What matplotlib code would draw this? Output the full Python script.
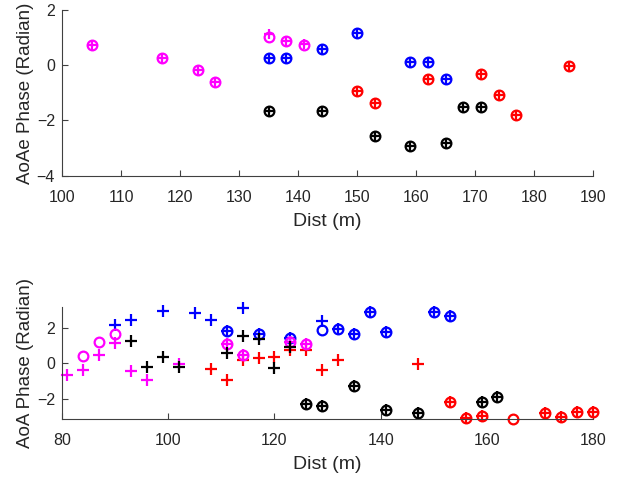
import matplotlib
matplotlib.use('Agg')
import matplotlib.pyplot as plt

plt.rcParams['font.family'] = ['Liberation Sans', 'DejaVu Sans']

# ---- top plot (AoAe) ----
top_m_x = [105, 117, 123, 126, 135, 138, 141]
top_m_o = [0.73, 0.27, -0.18, -0.62, 1.03, 0.89, 0.74]
top_m_p = [0.73, 0.27, -0.18, -0.62, 1.12, 0.89, 0.76]

top_b_x = [135, 138, 144, 150, 159, 162, 165]
top_b_y = [0.27, 0.27, 0.59, 1.18, 0.13, 0.13, -0.5]

top_r_x = [150, 153, 162, 171, 174, 177, 186]
top_r_y = [-0.94, -1.38, -0.5, -0.33, -1.09, -1.8, -0.02]

top_k_x = [135, 144, 153, 159, 165, 168, 171]
top_k_y = [-1.65, -1.65, -2.56, -2.93, -2.81, -1.5, -1.5]

# ---- bottom plot (AoA) ----
bot_m_ox = [84, 87, 90, 111, 114, 123, 126]
bot_m_oy = [0.42, 1.21, 1.62, 1.07, 0.43, 1.19, 1.09]
bot_m_px = [81, 84, 87, 90, 93, 96, 102, 111, 114, 123, 126]
bot_m_py = [-0.66, -0.37, 0.45, 1.15, -0.45, -0.94, -0.07, 1.07, 0.43, 1.19, 1.09]

bot_b_ox = [111, 117, 123, 129, 132, 135, 138, 141, 150, 153]
bot_b_oy = [1.79, 1.66, 1.43, 1.85, 1.9, 1.62, 2.88, 1.75, 2.88, 2.66]
bot_b_px = [90, 93, 99, 105, 108, 111, 114, 117, 123, 129, 132, 135, 138, 141, 150, 153]
bot_b_py = [2.13, 2.41, 2.92, 2.83, 2.45, 1.79, 3.07, 1.66, 1.43, 2.37, 1.9, 1.62, 2.88, 1.75, 2.88, 2.66]

bot_k_ox = [126, 129, 135, 141, 147, 159, 162]
bot_k_oy = [-2.29, -2.41, -1.26, -2.63, -2.8, -2.16, -1.92]
bot_k_px = [93, 96, 99, 102, 111, 114, 117, 120, 123, 126, 129, 135, 141, 147, 159, 162]
bot_k_py = [1.23, -0.22, 0.32, -0.2, 0.59, 1.51, 1.36, -0.3, 0.88, -2.29, -2.41, -1.26, -2.63, -2.8, -2.16, -1.92]

bot_r_ox = [153, 156, 159, 165, 171, 174, 177, 180]
bot_r_oy = [-2.16, -3.1, -2.99, -3.12, -2.8, -3.01, -2.73, -2.73]
bot_r_px = [108, 111, 114, 117, 120, 123, 126, 129, 132, 147, 153, 156, 159, 171, 174, 177, 180]
bot_r_py = [-0.32, -0.94, 0.15, 0.3, 0.34, 0.72, 0.76, -0.37, 0.19, -0.04, -2.16, -3.1, -2.99, -2.8, -3.01, -2.73, -2.73]

fig = plt.figure(figsize=(6.27, 4.8), dpi=100)
ax1 = fig.add_axes([0.0989, 0.634, 0.847, 0.345])
ax2 = fig.add_axes([0.0989, 0.127, 0.847, 0.233])

ms = 7
mw = 1.6
axis_col = '#404040'
txt_col = '#262626'
cols = {'r': '#ff0000', 'b': '#0000ff', 'm': '#ff00ff', 'k': '#000000'}

# top plot
for xs, yo, yp, c in [(top_r_x, top_r_y, top_r_y, 'r'),
                      (top_b_x, top_b_y, top_b_y, 'b'),
                      (top_m_x, top_m_o, top_m_p, 'm'),
                      (top_k_x, top_k_y, top_k_y, 'k')]:
    ax1.plot(xs, yo, 'o', color=cols[c], ms=ms, mew=mw, mfc='none', clip_on=False)
    ax1.plot(xs, yp, '+', color=cols[c], ms=ms, mew=mw, clip_on=False)

ax1.set_xlim(100, 190)
ax1.set_ylim(-4, 2)
ax1.set_xticks(range(100, 191, 10))
ax1.set_yticks([-4, -2, 0, 2])
ax1.set_xlabel('Dist (m)', fontsize=14, color=txt_col, labelpad=6)
ax1.set_ylabel('AoAe Phase (Radian)', fontsize=13.5, color=txt_col, labelpad=2)

# bottom plot
for ox, oy, px, py, c in [(bot_r_ox, bot_r_oy, bot_r_px, bot_r_py, 'r'),
                          (bot_b_ox, bot_b_oy, bot_b_px, bot_b_py, 'b'),
                          (bot_m_ox, bot_m_oy, bot_m_px, bot_m_py, 'm'),
                          (bot_k_ox, bot_k_oy, bot_k_px, bot_k_py, 'k')]:
    ax2.plot(ox, oy, 'o', color=cols[c], ms=ms, mew=mw, mfc='none', clip_on=False)
    ax2.plot(px, py, '+', color=cols[c], ms=ms + 1, mew=mw, clip_on=False)

ax2.set_xlim(80, 180)
ax2.set_ylim(-3.1416, 3.1416)
ax2.set_xticks([80, 100, 120, 140, 160, 180])
ax2.set_yticks([-2, 0, 2])
ax2.set_xlabel('Dist (m)', fontsize=14, color=txt_col, labelpad=6)
ax2.set_ylabel('AoA Phase (Radian)', fontsize=13.5, color=txt_col, labelpad=2)

for ax in (ax1, ax2):
    ax.spines['top'].set_visible(False)
    ax.spines['right'].set_visible(False)
    for s in ('left', 'bottom'):
        ax.spines[s].set_color(axis_col)
        ax.spines[s].set_linewidth(0.8)
    ax.tick_params(direction='in', length=4, width=0.8, color=axis_col,
                   labelsize=11.5, labelcolor=txt_col)
    ax.tick_params(axis='x', pad=10)
    ax.tick_params(axis='y', pad=5)

fig.savefig('out.png', dpi=100)
